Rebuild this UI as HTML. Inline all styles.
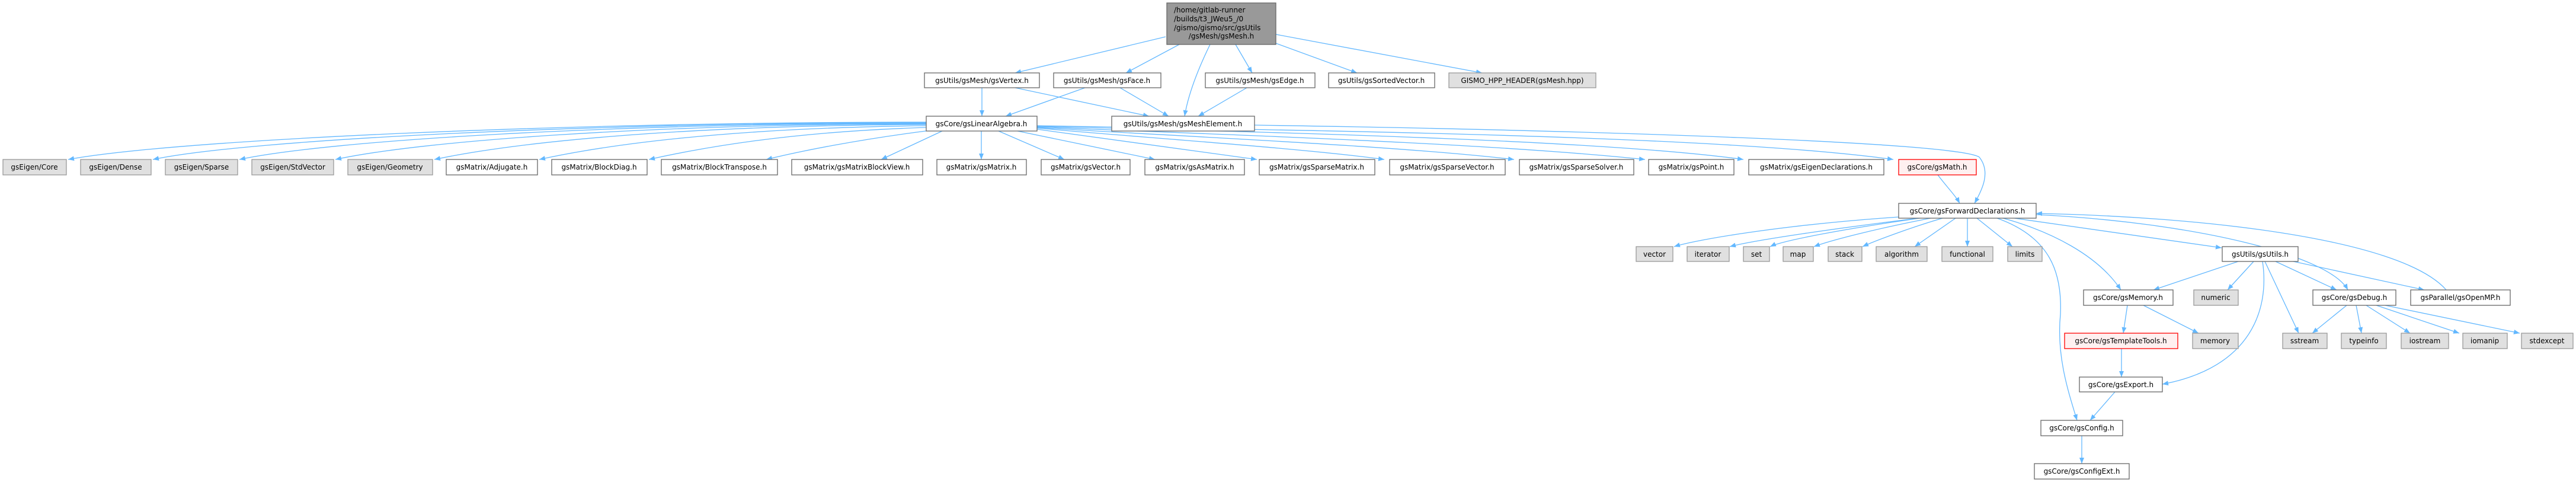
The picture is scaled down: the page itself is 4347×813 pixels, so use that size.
<!DOCTYPE html>
<html><head><meta charset="utf-8"><style>
html,body{margin:0;padding:0;background:#fff;width:4347px;height:813px;overflow:hidden}
svg{display:block}
text{font-family:"DejaVu Sans","Liberation Sans",sans-serif;font-size:12px;fill:#000}
.e{fill:none;stroke:#63b8ff;stroke-width:1.3}
.w{fill:#fff;stroke:#666;stroke-width:1.3}
.g{fill:#e0e0e0;stroke:#999;stroke-width:1.3}
.r{fill:#fff0f0;stroke:#f00;stroke-width:1.3}
</style></head><body>
<svg width="4347" height="813" viewBox="0 0 4347 813" xmlns="http://www.w3.org/2000/svg">
<defs><marker id="a" markerWidth="11" markerHeight="8" refX="10" refY="4" orient="auto" markerUnits="userSpaceOnUse"><path d="M0,0 L10,4 L0,8 z" fill="#63b8ff"/></marker></defs>
<g class="edges" marker-end="url(#a)">
<path class="e" marker-end="url(#a)" d="M1967,62 L1713,123"/>
<path class="e" marker-end="url(#a)" d="M1990,75 L1900,123"/>
<path class="e" marker-end="url(#a)" d="M2042,75 C2020,120 2005,160 1999,196"/>
<path class="e" marker-end="url(#a)" d="M2085,75 L2113,123"/>
<path class="e" marker-end="url(#a)" d="M2153,73 L2290,123"/>
<path class="e" marker-end="url(#a)" d="M2153,58 L2501,123"/>
<path class="e" marker-end="url(#a)" d="M1657,148 L1657,196"/>
<path class="e" marker-end="url(#a)" d="M1713,148 L1939,196"/>
<path class="e" marker-end="url(#a)" d="M1831,148 L1697,196"/>
<path class="e" marker-end="url(#a)" d="M1890,148 L1972,196"/>
<path class="e" marker-end="url(#a)" d="M2104,148 L2022,196"/>
<path class="e" marker-end="url(#a)" d="M2117,211 C2700,220 3300,240 3340,265 C3360,290 3345,320 3332,343"/>
<path class="e" marker-end="url(#a)" d="M1563,206 C960,206 300,235 115,269"/>
<path class="e" marker-end="url(#a)" d="M1563,207 C1000,207 420,235 258,269"/>
<path class="e" marker-end="url(#a)" d="M1563,208 C1040,208 560,236 404,269"/>
<path class="e" marker-end="url(#a)" d="M1563,209 C1080,210 710,238 566,269"/>
<path class="e" marker-end="url(#a)" d="M1563,210 C1140,212 870,240 733,269"/>
<path class="e" marker-end="url(#a)" d="M1563,212 C1220,216 1020,245 910,269"/>
<path class="e" marker-end="url(#a)" d="M1565,215 C1330,222 1180,250 1095,269"/>
<path class="e" marker-end="url(#a)" d="M1570,220 C1450,235 1350,255 1293,269"/>
<path class="e" marker-end="url(#a)" d="M1590,221 L1487,269"/>
<path class="e" marker-end="url(#a)" d="M1656,221 L1656,269"/>
<path class="e" marker-end="url(#a)" d="M1685,221 L1796,269"/>
<path class="e" marker-end="url(#a)" d="M1717,221 L1949,269"/>
<path class="e" marker-end="url(#a)" d="M1750,218 L2121,269"/>
<path class="e" marker-end="url(#a)" d="M1750,216 C1900,230 2200,250 2336,269"/>
<path class="e" marker-end="url(#a)" d="M1750,215 C1950,228 2350,245 2555,269"/>
<path class="e" marker-end="url(#a)" d="M1750,214 C2000,225 2500,240 2776,269"/>
<path class="e" marker-end="url(#a)" d="M1750,213 C2100,222 2700,235 2942,269"/>
<path class="e" marker-end="url(#a)" d="M1750,212 C2200,220 2900,228 3195,269"/>
<path class="e" marker-end="url(#a)" d="M3270,295 C3285,315 3300,330 3307,343"/>
<path class="e" marker-end="url(#a)" d="M3204,366 C3000,380 2860,405 2825,416"/>
<path class="e" marker-end="url(#a)" d="M3237,368 C3100,385 2960,405 2919,416"/>
<path class="e" marker-end="url(#a)" d="M3240,368 C3120,385 3010,405 2987,416"/>
<path class="e" marker-end="url(#a)" d="M3258,368 C3170,385 3090,405 3061,416"/>
<path class="e" marker-end="url(#a)" d="M3278,368 C3220,385 3160,408 3143,416"/>
<path class="e" marker-end="url(#a)" d="M3300,368 L3231,416"/>
<path class="e" marker-end="url(#a)" d="M3320,368 L3320,416"/>
<path class="e" marker-end="url(#a)" d="M3336,368 L3396,416"/>
<path class="e" marker-end="url(#a)" d="M3399,368 L3749,418"/>
<path class="e" marker-end="url(#a)" d="M3380,368 C3460,390 3540,430 3579,489"/>
<path class="e" marker-end="url(#a)" d="M3370,368 C3460,400 3480,460 3477,530 C3470,600 3490,660 3505,709"/>
<path class="e" marker-end="url(#a)" d="M3436,362 C3700,375 3930,430 3962,489"/>
<path class="e" marker-end="url(#a)" d="M4128,489 C4050,400 3700,365 3436,360"/>
<path class="e" marker-end="url(#a)" d="M3777,441 L3634,489"/>
<path class="e" marker-end="url(#a)" d="M3803,441 L3759,489"/>
<path class="e" marker-end="url(#a)" d="M3822,441 L3879,562"/>
<path class="e" marker-end="url(#a)" d="M3818,441 C3830,520 3800,620 3649,648"/>
<path class="e" marker-end="url(#a)" d="M3840,441 L3943,489"/>
<path class="e" marker-end="url(#a)" d="M3870,441 L4091,489"/>
<path class="e" marker-end="url(#a)" d="M3590,515 L3583,562"/>
<path class="e" marker-end="url(#a)" d="M3617,515 L3710,562"/>
<path class="e" marker-end="url(#a)" d="M3960,515 L3902,562"/>
<path class="e" marker-end="url(#a)" d="M3976,515 L3985,562"/>
<path class="e" marker-end="url(#a)" d="M3993,515 L4067,562"/>
<path class="e" marker-end="url(#a)" d="M4010,515 L4150,562"/>
<path class="e" marker-end="url(#a)" d="M4025,515 L4252,562"/>
<path class="e" marker-end="url(#a)" d="M3580,588 L3580,636"/>
<path class="e" marker-end="url(#a)" d="M3569,661 L3527,709"/>
<path class="e" marker-end="url(#a)" d="M3513,735 L3513,782"/>
</g>
<!-- top node -->
<rect x="1969" y="5" width="184" height="70" fill="#999" stroke="#666" stroke-width="1.3"/>
<text x="1981" y="21">/home/gitlab-runner</text>
<text x="1981" y="36">/builds/t3_JWeu5_/0</text>
<text x="1981" y="51">/gismo/gismo/src/gsUtils</text>
<text x="2061" y="65" text-anchor="middle">/gsMesh/gsMesh.h</text>
<g text-anchor="middle">
<rect class="w" x="1560" y="123" width="194" height="25"/><text x="1657" y="140">gsUtils/gsMesh/gsVertex.h</text>
<rect class="w" x="1778" y="123" width="181" height="25"/><text x="1868" y="140">gsUtils/gsMesh/gsFace.h</text>
<rect class="w" x="2034" y="123" width="185" height="25"/><text x="2126" y="140">gsUtils/gsMesh/gsEdge.h</text>
<rect class="w" x="2242" y="123" width="179" height="25"/><text x="2331" y="140">gsUtils/gsSortedVector.h</text>
<rect class="g" x="2445" y="123" width="248" height="25"/><text x="2569" y="140">GISMO_HPP_HEADER(gsMesh.hpp)</text>
<rect class="w" x="1563" y="196" width="187" height="25"/><text x="1656" y="213">gsCore/gsLinearAlgebra.h</text>
<rect class="w" x="1876" y="196" width="241" height="25"/><text x="1996" y="213">gsUtils/gsMesh/gsMeshElement.h</text>
<rect class="g" x="5" y="269" width="107" height="26"/><text x="58" y="286">gsEigen/Core</text>
<rect class="g" x="136" y="269" width="119" height="26"/><text x="195" y="286">gsEigen/Dense</text>
<rect class="g" x="279" y="269" width="122" height="26"/><text x="340" y="286">gsEigen/Sparse</text>
<rect class="g" x="425" y="269" width="138" height="26"/><text x="494" y="286">gsEigen/StdVector</text>
<rect class="g" x="587" y="269" width="143" height="26"/><text x="658" y="286">gsEigen/Geometry</text>
<rect class="w" x="753" y="269" width="154" height="26"/><text x="830" y="286">gsMatrix/Adjugate.h</text>
<rect class="w" x="931" y="269" width="161" height="26"/><text x="1011" y="286">gsMatrix/BlockDiag.h</text>
<rect class="w" x="1116" y="269" width="196" height="26"/><text x="1214" y="286">gsMatrix/BlockTranspose.h</text>
<rect class="w" x="1336" y="269" width="221" height="26"/><text x="1446" y="286">gsMatrix/gsMatrixBlockView.h</text>
<rect class="w" x="1581" y="269" width="151" height="26"/><text x="1656" y="286">gsMatrix/gsMatrix.h</text>
<rect class="w" x="1757" y="269" width="150" height="26"/><text x="1832" y="286">gsMatrix/gsVector.h</text>
<rect class="w" x="1932" y="269" width="168" height="26"/><text x="2016" y="286">gsMatrix/gsAsMatrix.h</text>
<rect class="w" x="2125" y="269" width="195" height="26"/><text x="2222" y="286">gsMatrix/gsSparseMatrix.h</text>
<rect class="w" x="2345" y="269" width="195" height="26"/><text x="2442" y="286">gsMatrix/gsSparseVector.h</text>
<rect class="w" x="2564" y="269" width="193" height="26"/><text x="2660" y="286">gsMatrix/gsSparseSolver.h</text>
<rect class="w" x="2782" y="269" width="144" height="26"/><text x="2854" y="286">gsMatrix/gsPoint.h</text>
<rect class="w" x="2951" y="269" width="228" height="26"/><text x="3065" y="286">gsMatrix/gsEigenDeclarations.h</text>
<rect class="r" x="3204" y="269" width="131" height="26"/><text x="3269" y="286">gsCore/gsMath.h</text>
<rect class="w" x="3204" y="343" width="232" height="25"/><text x="3320" y="360">gsCore/gsForwardDeclarations.h</text>
<rect class="g" x="2761" y="416" width="62" height="25"/><text x="2792" y="433">vector</text>
<rect class="g" x="2847" y="416" width="71" height="25"/><text x="2882" y="433">iterator</text>
<rect class="g" x="2942" y="416" width="44" height="25"/><text x="2964" y="433">set</text>
<rect class="g" x="3009" y="416" width="51" height="25"/><text x="3034" y="433">map</text>
<rect class="g" x="3085" y="416" width="57" height="25"/><text x="3113" y="433">stack</text>
<rect class="g" x="3166" y="416" width="86" height="25"/><text x="3209" y="433">algorithm</text>
<rect class="g" x="3277" y="416" width="86" height="25"/><text x="3320" y="433">functional</text>
<rect class="g" x="3388" y="416" width="58" height="25"/><text x="3417" y="433">limits</text>
<rect class="w" x="3750" y="416" width="128" height="25"/><text x="3814" y="433">gsUtils/gsUtils.h</text>
<rect class="w" x="3516" y="489" width="151" height="26"/><text x="3591" y="506">gsCore/gsMemory.h</text>
<rect class="g" x="3702" y="489" width="75" height="26"/><text x="3739" y="506">numeric</text>
<rect class="w" x="3903" y="489" width="140" height="26"/><text x="3973" y="506">gsCore/gsDebug.h</text>
<rect class="w" x="4068" y="489" width="168" height="26"/><text x="4152" y="506">gsParallel/gsOpenMP.h</text>
<rect class="r" x="3484" y="562" width="191" height="26"/><text x="3579" y="579">gsCore/gsTemplateTools.h</text>
<rect class="g" x="3700" y="562" width="77" height="26"/><text x="3738" y="579">memory</text>
<rect class="g" x="3852" y="562" width="75" height="26"/><text x="3889" y="579">sstream</text>
<rect class="g" x="3951" y="562" width="76" height="26"/><text x="3989" y="579">typeinfo</text>
<rect class="g" x="4052" y="562" width="80" height="26"/><text x="4092" y="579">iostream</text>
<rect class="g" x="4156" y="562" width="75" height="26"/><text x="4193" y="579">iomanip</text>
<rect class="g" x="4255" y="562" width="87" height="26"/><text x="4298" y="579">stdexcept</text>
<rect class="w" x="3509" y="636" width="140" height="25"/><text x="3579" y="653">gsCore/gsExport.h</text>
<rect class="w" x="3444" y="709" width="138" height="26"/><text x="3513" y="726">gsCore/gsConfig.h</text>
<rect class="w" x="3433" y="782" width="160" height="26"/><text x="3513" y="799">gsCore/gsConfigExt.h</text>
</g>
</svg>
</body></html>
